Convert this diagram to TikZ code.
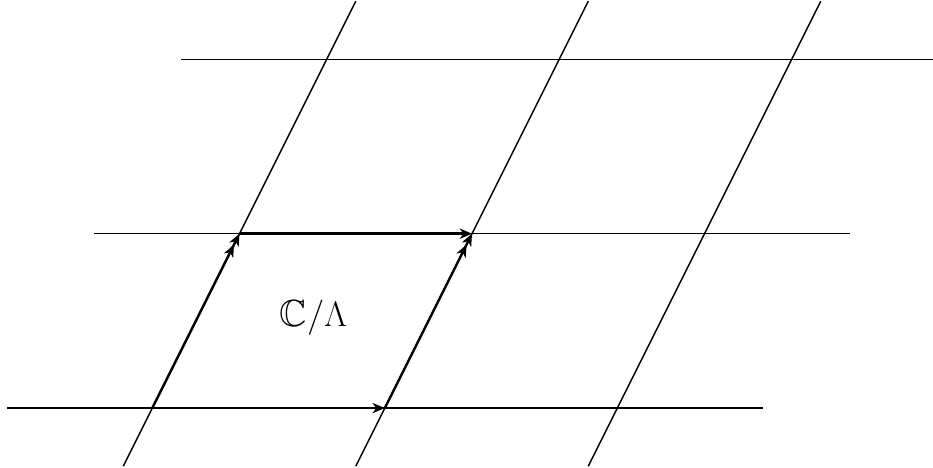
\documentclass[tikz,border=0pt]{standalone}
\usepackage{amssymb}
\usetikzlibrary{arrows.meta}
\begin{document}
\begin{tikzpicture}[x=1cm,y=1cm,
  gridline/.style={line width=0.7pt},
  edge/.style={line width=1.2pt},
  onetip/.style={-{Stealth[length=6pt,width=5pt,inset=1.8pt]}},
  twotip/.style={-{Stealth[length=6pt,width=5pt,inset=1.8pt]Stealth[length=6pt,width=5pt,inset=1.8pt]}}]
\useasboundingbox (-2.62,-1.03) rectangle (13.43,7.02);
% horizontal line ends
\coordinate (h0a) at (-2.5,0);  \coordinate (h0b) at (10.5,0);
\coordinate (h1a) at (-1,3);    \coordinate (h1b) at (12,3);
\coordinate (h2a) at (0.5,6);   \coordinate (h2b) at (13.5,6);
% slanted line ends
\coordinate (s0a) at (-0.5,-1); \coordinate (s0b) at (3.5,7);
\coordinate (s1a) at (3.5,-1);  \coordinate (s1b) at (7.5,7);
\coordinate (s2a) at (7.5,-1);  \coordinate (s2b) at (11.5,7);
\draw[gridline] (h0a) -- (h0b);
\draw[gridline] (h1a) -- (h1b);
\draw[gridline] (h2a) -- (h2b);
\draw[gridline] (s0a) -- (s0b);
\draw[gridline] (s1a) -- (s1b);
\draw[gridline] (s2a) -- (s2b);
% fundamental domain
\coordinate (A) at (0,0);
\coordinate (B) at (4,0);
\coordinate (C) at (5.5,3);
\coordinate (D) at (1.5,3);
\draw[edge,onetip] (A) -- (B);
\draw[edge,onetip] (D) -- (C);
\draw[edge,twotip] (A) -- (D);
\draw[edge,twotip] (B) -- (C);
\node (lab) at (2.77,1.55) {\fontsize{18.5}{22}\selectfont $\mathbb{C}/\Lambda$};
\end{tikzpicture}
\end{document}
